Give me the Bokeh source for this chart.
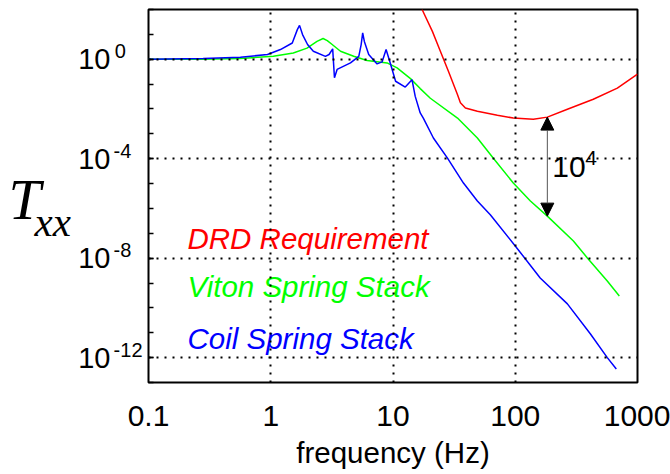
import json
import numpy as np
from bokeh.plotting import figure
from bokeh.layouts import row
from bokeh.models import (FixedTicker, Label, Arrow, NormalHead, CustomJSTickFormatter, Range1d,
                          LogAxis, LogScale)
from bokeh.embed import file_html
from bokeh.resources import INLINE

# ---------------- data ----------------
x_ticks = [0.1, 1, 10, 100, 1000]
x_grid_ticks = [1, 10, 100]
y_tick_exponents = [0, -4, -8, -12]
y_minor_exponents = list(range(-13, 3))

coil_freq = [0.1, 0.28, 0.565, 0.94, 1.2, 1.5, 1.65, 1.72, 1.82, 2.0, 2.23, 2.8, 3.0, 3.21, 3.32,
             3.49, 4.49, 5.25, 5.49, 5.65, 5.83, 6.33, 7.41, 8.14, 8.78, 9.4, 10.5, 12.6, 14.3,
             15.2, 16.7, 17.7, 21.4, 27.9, 37.7, 49, 62.5, 100, 160, 267, 411, 566, 671]
coil_T = [1.0, 1.07, 1.2, 1.55, 2.45, 4.5, 15.5, 23, 9.8, 3.9, 2.1, 1.3, 1.55, 2.6, 0.18,
          0.39, 0.71, 1.3, 3.9, 11.5, 5.2, 1.55, 0.65, 0.78, 2.45, 0.83, 0.13, 0.076, 0.15,
          0.032, 6.9e-3, 4.3e-3, 6.8e-4, 1.05e-4, 1.05e-5, 2.0e-6, 5.6e-7, 3.1e-8, 1.6e-9,
          1.45e-10, 9.1e-12, 1.0e-12, 3.5e-13]

viton_freq = [0.1, 0.28, 0.56, 1.05, 1.53, 1.98, 2.39, 2.68, 2.9, 3.18, 3.72, 4.77, 6.14, 8.95,
              10.8, 13.9, 16.7, 20.2, 33.7, 49, 66.2, 96.4, 133, 183, 299, 389, 566, 710]
viton_T = [1.0, 1.0, 1.07, 1.32, 1.78, 2.8, 5.2, 6.8, 5.6, 3.9, 2.1, 1.32, 0.89, 0.71,
           0.45, 0.166, 0.066, 0.027, 4.3e-3, 6.8e-4, 1.05e-4, 1.05e-5, 2.0e-6, 4.9e-7,
           4.9e-8, 1.02e-8, 1.2e-9, 3.0e-10]

drd_freq = [17.3, 21.0, 24.4, 28.4, 33.6, 35.6, 39.1, 49.0, 71.4, 96.4, 140.6, 183, 267, 435, 684, 1000]
drd_T = [100, 13.2, 2.1, 0.33, 0.039, 0.0178, 0.011, 8.1e-3, 5.6e-3, 4.3e-3, 3.9e-3, 4.7e-3,
         9.8e-3, 0.0245, 0.069, 0.25]

series_names = ["DRD Requirement", "Viton Spring Stack", "Coil Spring Stack"]
series_colors = ["#ff0000", "#00ff00", "#0000ff"]

arrow_freq = 183
arrow_label = ("10", "4")

SANS = "Liberation Sans"
SERIF = "Liberation Serif"

Y_LO, Y_HI = -13, 2            # decades shown
y_range = Range1d(10.0 ** Y_LO, 10.0 ** Y_HI)
TOP, BOTTOM = 9, 92
SIDE_W = 72
FRAME_H = 373
SUP_RAISE_PX = 8
sup_shift = SUP_RAISE_PX * (Y_HI - Y_LO) / FRAME_H

# exponent strings, padded with no-break spaces so they read left-aligned
NB = "\u00a0"
pad = {1: NB * 3, 2: NB * 2, 3: ""}
exp_labels = {str(e): str(e) + pad[len(str(e))] for e in y_tick_exponents}

# ---------------- main figure ----------------
p = figure(width=670 - SIDE_W, height=474, x_axis_type="log", y_axis_type="log",
           x_range=Range1d(0.1, 1000), y_range=y_range,
           output_backend="svg", toolbar_location=None,
           min_border_left=148 - SIDE_W, min_border_right=33, min_border_top=TOP,
           min_border_bottom=BOTTOM)
p.title.visible = False
p.background_fill_color = "white"
p.border_fill_color = "white"
p.outline_line_color = "black"
p.outline_line_width = 2

# x axis
p.xaxis.ticker = FixedTicker(ticks=x_ticks, minor_ticks=[])
p.xaxis.formatter = CustomJSTickFormatter(code="return tick.toString()")
p.xaxis.axis_line_color = None
p.xaxis.major_tick_line_color = None
p.xaxis.minor_tick_line_color = None
p.xaxis.major_label_text_font = SANS
p.xaxis.major_label_text_font_size = "30px"
p.xaxis.major_label_text_color = "black"
p.xaxis.major_label_standoff = 17
p.xaxis.axis_label = "frequency (Hz)"
p.xaxis.axis_label_text_font = SANS
p.xaxis.axis_label_text_font_size = "29.5px"
p.xaxis.axis_label_text_font_style = "normal"
p.xaxis.axis_label_text_color = "black"
p.xaxis.axis_label_standoff = 7

# y axis: inward ticks only
p.yaxis.ticker = FixedTicker(ticks=[10.0 ** e for e in y_tick_exponents],
                             minor_ticks=[10.0 ** e for e in y_minor_exponents])
p.yaxis.formatter = CustomJSTickFormatter(code="return ''")
p.yaxis.major_label_standoff = 0
p.yaxis.axis_line_color = None
p.yaxis.major_tick_in = 5
p.yaxis.major_tick_out = 0
p.yaxis.minor_tick_in = 5
p.yaxis.minor_tick_out = 0
p.yaxis.major_tick_line_color = "black"
p.yaxis.minor_tick_line_color = "black"
p.yaxis.major_tick_line_width = 1.5
p.yaxis.minor_tick_line_width = 1.5

# exponent labels: axis on a range shifted so they sit raised like superscripts
p.extra_y_ranges = {"sup": Range1d(10.0 ** (Y_LO - sup_shift), 10.0 ** (Y_HI - sup_shift))}
p.extra_y_scales = {"sup": LogScale()}
sup_axis = LogAxis(y_range_name="sup",
                   ticker=FixedTicker(ticks=[10.0 ** e for e in y_tick_exponents], minor_ticks=[]),
                   formatter=CustomJSTickFormatter(
                       code="const m = %s; return m[String(Math.round(Math.log10(tick)))];"
                            % json.dumps(exp_labels)),
                   axis_line_color=None, major_tick_line_color=None, minor_tick_line_color=None,
                   major_tick_in=0, major_tick_out=0, minor_tick_in=0, minor_tick_out=0,
                   major_label_standoff=6, major_label_text_font=SANS,
                   major_label_text_font_size="20px", major_label_text_color="black")
p.add_layout(sup_axis, "left")

# mantissa "10" labels
ten_axis = LogAxis(ticker=FixedTicker(ticks=[10.0 ** e for e in y_tick_exponents], minor_ticks=[]),
                   formatter=CustomJSTickFormatter(code="return '10';"),
                   axis_line_color=None, major_tick_line_color=None, minor_tick_line_color=None,
                   major_tick_in=0, major_tick_out=0, minor_tick_in=0, minor_tick_out=0,
                   major_label_standoff=0, major_label_text_font=SANS,
                   major_label_text_font_size="29px", major_label_text_color="black")
p.add_layout(ten_axis, "left")

# grids
p.xgrid.ticker = FixedTicker(ticks=x_grid_ticks)
p.ygrid.ticker = FixedTicker(ticks=[10.0 ** e for e in y_tick_exponents])
for g in (p.xgrid, p.ygrid):
    g.grid_line_color = "black"
    g.grid_line_width = 2
    g.grid_line_dash = "2 6"
    g.level = "overlay"

# curves
p.line(drd_freq, drd_T, line_color=series_colors[0], line_width=1.5)
p.line(viton_freq, viton_T, line_color=series_colors[1], line_width=1.5)
p.line(coil_freq, coil_T, line_color=series_colors[2], line_width=1.5)


def loginterp(f, fs, ts):
    return 10 ** np.interp(np.log10(f), np.log10(fs), np.log10(ts))


y_top = float(loginterp(arrow_freq, drd_freq, drd_T))
y_bot = float(loginterp(arrow_freq, viton_freq, viton_T))
p.add_layout(Arrow(start=NormalHead(size=13, fill_color="black", line_color="black"),
                   end=NormalHead(size=13, fill_color="black", line_color="black"),
                   x_start=arrow_freq, y_start=y_top, x_end=arrow_freq, y_end=y_bot,
                   line_color="#555555", line_width=1))
arrow_mid = 10 ** (-4.78)
p.add_layout(Label(x=arrow_freq, y=arrow_mid, x_offset=5, y_offset=11, text=arrow_label[0],
                   text_font=SANS, text_font_size="30px", text_color="black",
                   text_baseline="alphabetic", text_align="left"))
p.add_layout(Label(x=arrow_freq, y=arrow_mid, x_offset=38, y_offset=20, text=arrow_label[1],
                   text_font=SANS, text_font_size="21px", text_color="black",
                   text_baseline="alphabetic", text_align="left"))

# in-plot series labels
for name, color, ly in zip(series_names, series_colors, [10 ** -7.59, 10 ** -9.49, 10 ** -11.6]):
    p.add_layout(Label(x=0.1, y=ly, x_offset=39, y_offset=9, text=name,
                       text_font=SANS, text_font_size="29.5px", text_font_style="italic",
                       text_color=color, text_baseline="alphabetic", text_align="left"))

# ---------------- left panel: axis title T_xx ----------------
side = figure(width=SIDE_W, height=474, x_range=Range1d(0, SIDE_W), y_range=y_range,
              y_axis_type="log", x_axis_location=None, y_axis_location=None,
              output_backend="svg", toolbar_location=None,
              min_border_left=0, min_border_right=0, min_border_top=TOP, min_border_bottom=BOTTOM)
side.title.visible = False
side.outline_line_color = None
side.background_fill_color = "white"
side.border_fill_color = "white"
side.grid.visible = False

side.add_layout(Label(x=8, y=10 ** -6.5, y_offset=21, text="T",
                      text_font=SERIF, text_font_size="58px", text_font_style="italic",
                      text_color="black", text_baseline="alphabetic", text_align="left"))
side.add_layout(Label(x=34, y=10 ** -6.5, y_offset=-1, text="xx",
                      text_font=SERIF, text_font_size="41px", text_font_style="italic",
                      text_color="black", text_baseline="alphabetic", text_align="left"))

layout = row(side, p, spacing=0)
open("out.html", "w").write(file_html(layout, INLINE))
